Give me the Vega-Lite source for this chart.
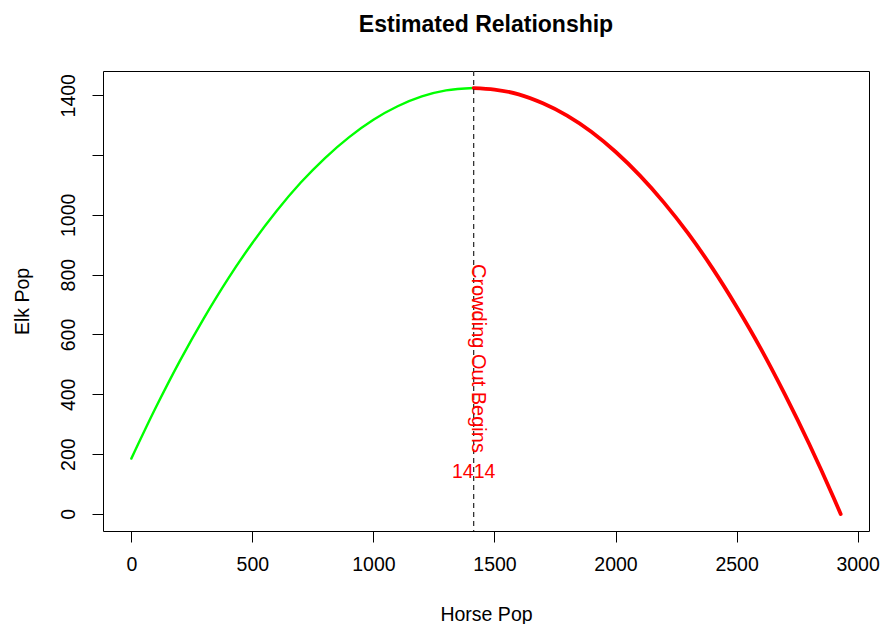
{
  "$schema": "https://vega.github.io/schema/vega-lite/v6.json",
  "width": 766,
  "height": 460,
  "autosize": {"type": "none"},
  "padding": {"left": 103, "top": 71, "right": 14, "bottom": 93},
  "background": "white",
  "title": {
    "text": "Estimated Relationship",
    "font": "Liberation Sans",
    "fontSize": 23,
    "fontWeight": "bold",
    "color": "black",
    "anchor": "middle",
    "frame": "group",
    "baseline": "alphabetic",
    "offset": 15
  },
  "config": {
    "view": {"stroke": "black", "strokeWidth": 1},
    "axis": {
      "grid": false,
      "domain": false,
      "tickColor": "black",
      "tickSize": 11,
      "labelColor": "black",
      "titleColor": "black",
      "labelFont": "Liberation Sans",
      "titleFont": "Liberation Sans",
      "labelFontSize": 19.5,
      "titleFontSize": 19.5,
      "titleFontWeight": "normal",
      "format": "d"
    }
  },
  "datasets": {
    "curve": [
      {"horse": 0, "elk": 185, "seg": "green"},
      {"horse": 100, "elk": 354, "seg": "green"},
      {"horse": 200, "elk": 511, "seg": "green"},
      {"horse": 300, "elk": 655, "seg": "green"},
      {"horse": 400, "elk": 787, "seg": "green"},
      {"horse": 500, "elk": 906, "seg": "green"},
      {"horse": 600, "elk": 1013, "seg": "green"},
      {"horse": 700, "elk": 1108, "seg": "green"},
      {"horse": 800, "elk": 1190, "seg": "green"},
      {"horse": 900, "elk": 1260, "seg": "green"},
      {"horse": 1000, "elk": 1318, "seg": "green"},
      {"horse": 1100, "elk": 1363, "seg": "green"},
      {"horse": 1200, "elk": 1396, "seg": "green"},
      {"horse": 1300, "elk": 1416, "seg": "green"},
      {"horse": 1414, "elk": 1424, "seg": "green"},
      {"horse": 1414, "elk": 1424, "seg": "red"},
      {"horse": 1500, "elk": 1419, "seg": "red"},
      {"horse": 1600, "elk": 1403, "seg": "red"},
      {"horse": 1700, "elk": 1373, "seg": "red"},
      {"horse": 1800, "elk": 1332, "seg": "red"},
      {"horse": 1900, "elk": 1278, "seg": "red"},
      {"horse": 2000, "elk": 1211, "seg": "red"},
      {"horse": 2100, "elk": 1132, "seg": "red"},
      {"horse": 2200, "elk": 1041, "seg": "red"},
      {"horse": 2300, "elk": 938, "seg": "red"},
      {"horse": 2400, "elk": 822, "seg": "red"},
      {"horse": 2500, "elk": 693, "seg": "red"},
      {"horse": 2600, "elk": 553, "seg": "red"},
      {"horse": 2700, "elk": 399, "seg": "red"},
      {"horse": 2800, "elk": 234, "seg": "red"},
      {"horse": 2900, "elk": 56, "seg": "red"},
      {"horse": 2930, "elk": 0, "seg": "red"}
    ],
    "peak": [
      {"horse": 1414, "label": "Crowding Out Begins", "labelElk": 520, "valueLabel": "1414", "valueElk": 141}
    ]
  },
  "encoding": {
    "x": {
      "field": "horse",
      "type": "quantitative",
      "scale": {"domain": [-117, 3047], "nice": false, "zero": false},
      "axis": {
        "title": "Horse Pop",
        "values": [0, 500, 1000, 1500, 2000, 2500, 3000],
        "labelPadding": 13,
        "titlePadding": 32
      }
    }
  },
  "layer": [
    {
      "data": {"name": "curve"},
      "transform": [{"filter": "datum.seg == 'green'"}],
      "mark": {"type": "line", "color": "#00FF00", "strokeWidth": 2.4, "interpolate": "monotone", "strokeCap": "round"},
      "encoding": {
        "y": {
          "field": "elk",
          "type": "quantitative",
          "scale": {"domain": [-57, 1481], "nice": false, "zero": false},
          "axis": {
            "title": "Elk Pop",
            "values": [0, 200, 400, 600, 800, 1000, 1200, 1400],
            "labelExpr": "datum.value == 1200 ? '' : datum.label",
            "labelAngle": -90,
            "labelAlign": "center",
            "labelBaseline": "bottom",
            "labelPadding": 14,
            "titlePadding": 26
          }
        }
      }
    },
    {
      "data": {"name": "curve"},
      "transform": [{"filter": "datum.seg == 'red'"}],
      "mark": {"type": "line", "color": "#FF0000", "strokeWidth": 3.8, "interpolate": "monotone", "strokeCap": "round"},
      "encoding": {
        "y": {"field": "elk", "type": "quantitative"}
      }
    },
    {
      "data": {"name": "peak"},
      "mark": {"type": "rule", "color": "#333333", "strokeWidth": 1.3, "strokeDash": [5, 4]},
      "encoding": {}
    },
    {
      "data": {"name": "peak"},
      "mark": {"type": "text", "color": "#FF0000", "font": "Liberation Sans", "fontSize": 20, "angle": 90, "align": "center", "baseline": "alphabetic", "dy": 1.5},
      "encoding": {
        "y": {"field": "labelElk", "type": "quantitative"},
        "text": {"field": "label"}
      }
    },
    {
      "data": {"name": "peak"},
      "mark": {"type": "text", "color": "#FF0000", "font": "Liberation Sans", "fontSize": 19.5, "align": "center", "baseline": "middle"},
      "encoding": {
        "y": {"field": "valueElk", "type": "quantitative"},
        "text": {"field": "valueLabel"}
      }
    }
  ]
}
